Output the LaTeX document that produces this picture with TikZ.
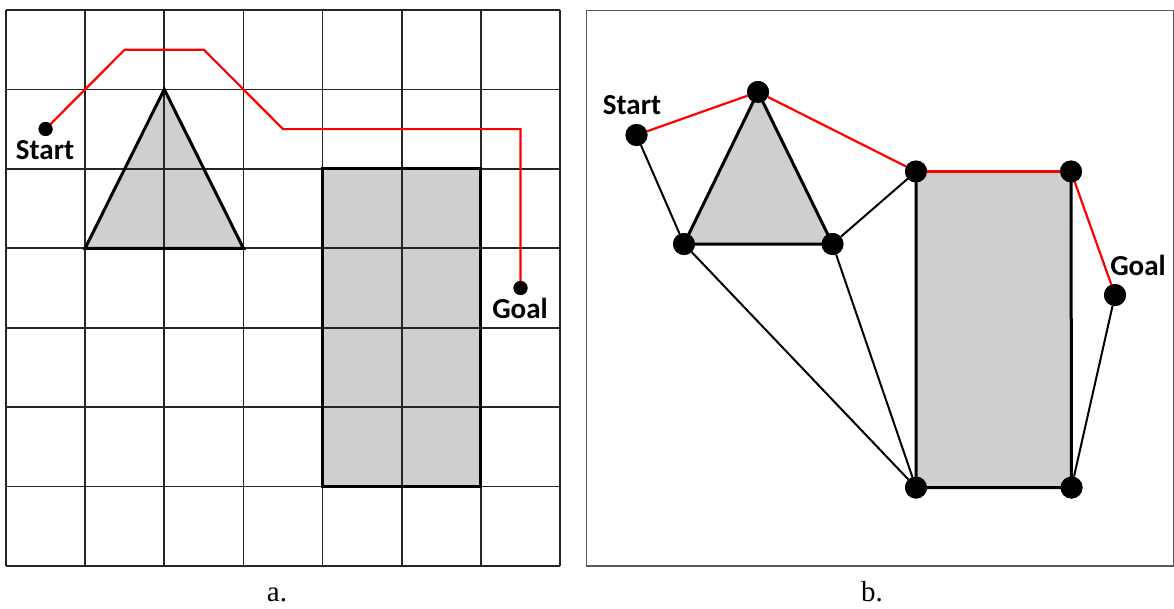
\documentclass[tikz,border=0pt]{standalone}
\usepackage{fontspec}
\setmainfont{Liberation Serif}
\newfontfamily\lblfont{Carlito}
\begin{document}
\begin{tikzpicture}[x=1pt,y=-1pt,
  gridline/.style={draw=black!85,line width=1.6pt},
  frameline/.style={draw=black!65,line width=1.6pt},
  obst/.style={fill=black!19},
  obstline/.style={draw=black,line width=3pt,line join=miter},
  route/.style={draw=red,line width=2.2pt,line join=miter},
  edge/.style={draw=black,line width=2pt},
  smalldot/.style={circle,fill=black,minimum size=14pt,inner sep=0pt},
  bigdot/.style={circle,fill=black,minimum size=22pt,inner sep=0pt},
  lbl/.style={font=\lblfont\bfseries\fontsize{29}{31}\selectfont,anchor=base,inner sep=0pt},
  captext/.style={font=\fontsize{29}{31}\selectfont,anchor=base,inner sep=0pt}]
\useasboundingbox (0,0) rectangle (1174,608);

% ---------- panel a ----------
\fill[obst] (164.3,89.4) -- (85.1,248.3) -- (243.4,248.3) -- cycle;
\fill[obst] (322.6,168.9) rectangle (480.9,486.6);
\foreach \i in {0,...,7} {
  \draw[gridline] ({6+\i*79.143},10) -- ({6+\i*79.143},566);
  \draw[gridline] (6,{10+\i*79.429}) -- (560,{10+\i*79.429});
}
\draw[obstline] (164.3,89.4) -- (85.1,248.3) -- (243.4,248.3) -- cycle;
\draw[obstline] (322.6,168.9) rectangle (480.9,486.6);

\node[smalldot] (as) at (45.6,129) {};
\node[smalldot] (ag) at (520.5,288) {};
\coordinate (p1) at (124.7,49.7);
\coordinate (p2) at (203.9,49.7);
\coordinate (p3) at (283.0,129.1);
\coordinate (p4) at (520.5,129.1);
\draw[route] (as.center) -- (p1) -- (p2) -- (p3) -- (p4) -- (ag.center);
\node[smalldot] at (as) {};
\node[smalldot] at (ag) {};
\node[lbl] (asl) at (45,159) {Start};
\node[lbl] (agl) at (520,318) {Goal};
\node[captext] (ca) at (277,601) {a.};

% ---------- panel b ----------
\draw[frameline] (586.5,10.5) rectangle (1173.3,566);

\node[bigdot] (s)  at (636.5,135) {};
\node[bigdot] (ap) at (758,92) {};
\node[bigdot] (lb) at (684,244) {};
\node[bigdot] (rb) at (832.5,244) {};
\node[bigdot] (tl) at (916,171.5) {};
\node[bigdot] (tr) at (1071,171.5) {};
\node[bigdot] (bl) at (916,487.5) {};
\node[bigdot] (br) at (1071.5,487.5) {};
\node[bigdot] (g)  at (1115,295) {};

\fill[obst] (ap.center) -- (lb.center) -- (rb.center) -- cycle;
\fill[obst] (tl.center) -- (tr.center) -- (br.center) -- (bl.center) -- cycle;
\draw[obstline] (ap.center) -- (lb.center) -- (rb.center) -- cycle;
\draw[obstline] (tr.center) -- (br.center) -- (bl.center) -- (tl.center);

\draw[edge] (s) -- (lb);
\draw[edge] (lb) -- (bl);
\draw[edge] (rb) -- (tl);
\draw[edge] (rb) -- (bl);
\draw[edge] (g) -- (br);
\draw[route] (s) -- (ap);
\draw[route] (ap) -- (tl);
\draw[route,line width=3pt] (tl.center) -- (tr.center);
\draw[route] (tr) -- (g);

\node[bigdot] at (s) {};
\node[bigdot] at (ap) {};
\node[bigdot] at (lb) {};
\node[bigdot] at (rb) {};
\node[bigdot] at (tl) {};
\node[bigdot] at (tr) {};
\node[bigdot] at (bl) {};
\node[bigdot] at (br) {};
\node[bigdot] at (g) {};

\node[lbl] (sl) at (632,114) {Start};
\node[lbl] (gl) at (1138,275) {Goal};
\node[captext] (cb) at (872,601) {b.};
\end{tikzpicture}
\end{document}
